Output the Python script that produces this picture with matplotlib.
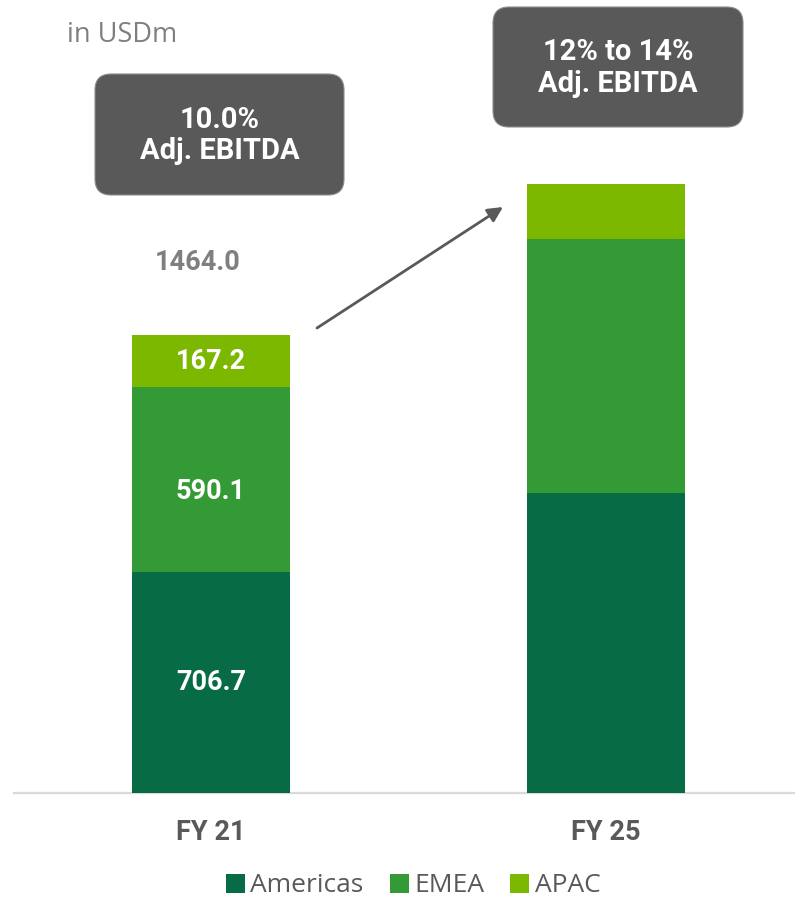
import matplotlib
matplotlib.use("Agg")
import matplotlib.pyplot as plt
from matplotlib.patches import FancyBboxPatch
from matplotlib.patches import Patch

# ---- data ----
categories = ["FY 21", "FY 25"]
series_names = ["Americas", "EMEA", "APAC"]
americas = [706.7, 960.0]
emea = [590.1, 811.0]
apac = [167.2, 176.0]
show_labels = [True, False]          # segment values only shown for FY 21
total_fy21 = 1464.0
margin_texts = ["10.0%\nAdj. EBITDA", "12% to 14%\nAdj. EBITDA"]
unit_text = "in USDm"

colors = ["#076B45", "#349A35", "#7CB800"]
dark_gray = "#595959"
mid_gray = "#7F7F7F"

W, H = 795, 900
fig = plt.figure(figsize=(W / 100, H / 100), dpi=100)

def fx(px):
    return px / W

def fy(py):
    return 1 - py / H

# axes: left 14px, right 795px, bottom at 793px, top at 0
ax = fig.add_axes([fx(14), fy(793), fx(795 - 14), 793 / H])
px_per_unit_y = 0.3127
ax.set_ylim(0, 793 / px_per_unit_y)
center0, center1 = 211, 605.5
ppx = center1 - center0
ax.set_xlim((14 - center0) / ppx, (795 - center0) / ppx)
for s in ax.spines.values():
    s.set_visible(False)
ax.set_xticks([])
ax.set_yticks([])
ax.axhline(0, color="#D9D9D9", lw=1.6, zorder=1, clip_on=False)

x = list(range(len(categories)))
bw = 158 / ppx
series = [americas, emea, apac]
bottoms = [0.0] * len(categories)
label_offsets = [0, -12, 0]  # visual tweak in px for label placement
for si, (vals, col, name) in enumerate(zip(series, colors, series_names)):
    ax.bar(x, vals, bw, bottom=bottoms, color=col, edgecolor="none", zorder=2, label=name)
    for i, v in enumerate(vals):
        if show_labels[i]:
            ax.annotate(f"{v:.1f}", (x[i], bottoms[i] + v / 2),
                        xytext=(0, label_offsets[si] * 0.72), textcoords="offset points",
                        ha="center", va="center", color="white",
                        fontsize=19.5, fontweight="bold", family="Roboto", zorder=3)
    bottoms = [b + v for b, v in zip(bottoms, vals)]

# total label above FY21 (offset left, as in reference)
fig.text(fx(198), fy(262), f"{total_fy21:.1f}", ha="center", va="center",
         color=mid_gray, fontsize=19.5, fontweight="bold", family="Roboto")

# category labels
for i, c in enumerate(categories):
    ax.annotate(c, (x[i], 0), xytext=(0, -(832 - 793) * 0.72), textcoords="offset points",
                ha="center", va="center", color=dark_gray, fontsize=19.5,
                fontweight="bold", family="Roboto", annotation_clip=False)

# unit text
fig.text(fx(67), fy(35), unit_text, ha="left", va="center", color=mid_gray,
         fontsize=19.5, family="Open Sans")

# margin boxes
boxes = [(95, 74, 344, 195), (493, 7, 743, 127)]
for (x0, y0, x1, y1), t in zip(boxes, margin_texts):
    r = 16
    p = FancyBboxPatch((x0 + r, H - y1 + r), (x1 - x0) - 2 * r, (y1 - y0) - 2 * r,
                       boxstyle=f"round,pad={r}", transform=None,
                       facecolor=dark_gray, edgecolor="#8C8C8C", lw=0.8, zorder=5)
    fig.patches.append(p)
    fig.text(fx((x0 + x1) / 2), fy((y0 + y1) / 2 + 1), t, ha="center", va="center",
             color="white", fontsize=21, fontweight="bold", family="Roboto",
             linespacing=1.15, zorder=6)

# arrow
x_a0 = (317 - center0) / ppx
x_a1 = (503 - center0) / ppx
y_a0 = (793 - 328) / px_per_unit_y
y_a1 = (793 - 207) / px_per_unit_y
ax.annotate("", xy=(x_a1, y_a1), xytext=(x_a0, y_a0),
            arrowprops=dict(arrowstyle="-|>,head_length=0.9,head_width=0.45",
                            color=dark_gray, lw=2, shrinkA=0, shrinkB=0))

# legend
handles = [Patch(facecolor=c, edgecolor="none") for c in colors]
leg = fig.legend(handles, series_names, loc="center", bbox_to_anchor=(fx(413), fy(886)),
                 ncol=3, frameon=False, handlelength=0.72, handleheight=0.72,
                 handletextpad=0.2, columnspacing=1.0,
                 prop={"family": "Open Sans", "size": 19})
for t in leg.get_texts():
    t.set_color(dark_gray)

fig.savefig("out.png", dpi=100)
